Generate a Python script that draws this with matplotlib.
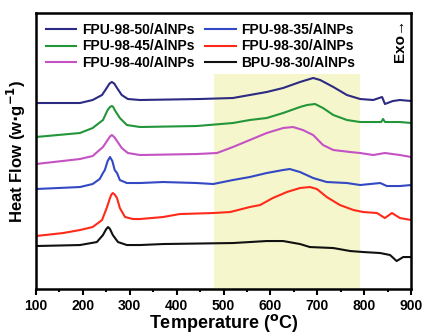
import matplotlib
matplotlib.use("Agg")
import matplotlib.pyplot as plt
from matplotlib.ticker import MultipleLocator

plt.rcParams['font.family'] = ['Liberation Sans', 'DejaVu Sans']
plt.rcParams['font.weight'] = 'bold'

# heat flow curves (arbitrary units, stacked offsets as in the figure)
t_50 = [100, 194, 221, 241, 251, 257, 262, 267, 273, 283, 296, 322, 450, 520, 556, 592, 627, 663, 691, 706, 734, 763, 791, 819, 838, 844, 861, 876, 900]
hf_50 = [186, 186, 189, 194, 201, 205.5, 207, 205.5, 201, 194, 190, 189, 190, 191, 194, 197, 201, 207, 211, 209, 202, 194, 190, 189, 192, 185, 188, 189, 188]

t_45 = [100, 194, 221, 243, 253, 258, 262, 265, 268, 279, 294, 322, 443, 520, 556, 592, 627, 663, 678, 695, 712, 734, 763, 791, 819, 836, 840, 844, 876, 900]
hf_45 = [152, 156, 161, 169, 179, 182, 183, 182, 179, 171, 164, 162, 163, 166, 169, 171, 176, 182, 184, 185, 181, 174, 169, 167, 167, 167, 170, 167, 167, 166]

t_40 = [100, 194, 221, 243, 253, 258, 262, 267, 273, 283, 296, 322, 443, 486, 520, 556, 592, 627, 648, 669, 691, 712, 734, 770, 791, 819, 844, 876, 900]
hf_40 = [125, 130, 133, 142, 149, 152.5, 154, 152, 148, 141, 136, 134, 135, 136, 142, 149, 156, 161, 162, 159, 154, 144, 139, 137, 136, 134, 136, 134, 132]

t_35 = [100, 194, 221, 236, 243, 247, 253, 258, 263, 268, 273, 279, 294, 322, 371, 443, 478, 520, 556, 592, 627, 641, 663, 691, 720, 763, 791, 834, 848, 876, 900]
hf_35 = [100, 102, 105, 110, 116, 119, 128, 132, 128, 119, 116, 109, 106, 106, 107, 106, 105, 109, 112, 116, 119, 120, 117, 111, 107, 106, 104, 106, 103, 103, 104]

t_30 = [100, 158, 194, 221, 241, 251, 258, 261, 264, 268, 273, 279, 290, 307, 322, 371, 407, 478, 514, 556, 578, 605, 635, 663, 684, 699, 720, 748, 777, 798, 827, 844, 859, 876, 900]
hf_30 = [53, 56, 59, 62, 69, 81, 91, 94.5, 96, 94.5, 91, 81, 72, 70, 70, 72, 75, 76, 77, 82, 84, 91, 97, 101, 102, 100, 92, 84, 79, 77, 76, 71, 76, 71, 69]

t_bpu = [100, 194, 230, 243, 250, 254, 258, 264, 275, 294, 322, 371, 520, 556, 592, 627, 663, 684, 734, 770, 798, 834, 855, 869, 883, 900]
hf_bpu = [43, 44, 47, 54, 60, 62, 60, 54, 47, 44, 44, 45, 46, 47, 48, 48, 45, 42, 41, 38, 37, 36, 34, 28, 32, 32]

labels = ['FPU-98-50/AlNPs', 'FPU-98-45/AlNPs', 'FPU-98-40/AlNPs',
          'FPU-98-35/AlNPs', 'FPU-98-30/AlNPs', 'BPU-98-30/AlNPs']
colors = ['#2d2a84', '#23963a', '#c452c4', '#3348c4', '#ff2a1a', '#111111']
temps = [t_50, t_45, t_40, t_35, t_30, t_bpu]
flows = [hf_50, hf_45, hf_40, hf_35, hf_30, hf_bpu]

fig = plt.figure(figsize=(4.27, 3.33), dpi=100)
ax = fig.add_axes([0.084, 0.132, 0.879, 0.829])

ax.axvspan(480, 790, ymax=0.78, color='#f6f6cc', lw=0, zorder=0)

for t, hf, c, lab in zip(temps, flows, colors, labels):
    ax.plot(t, hf, color=c, lw=1.5, label=lab, solid_joinstyle='round')

ax.set_xlim(100, 900)
ax.set_ylim(0, 276)
ax.xaxis.set_major_locator(MultipleLocator(100))
ax.xaxis.set_minor_locator(MultipleLocator(50))
ax.set_yticks([])
ax.tick_params(axis='x', which='major', direction='out', length=4, width=1.5, labelsize=10)
ax.tick_params(axis='x', which='minor', direction='out', length=2.5, width=1.5)
for s in ax.spines.values():
    s.set_linewidth(1.8)

ax.set_xlabel('Temperature ($\\mathbf{^{o}}$C)', fontsize=13, fontweight='bold', labelpad=-1)
ax.set_ylabel('Heat Flow (w$\\mathbf{\\cdot}$g$\\mathbf{^{-1}}$)', fontsize=12, fontweight='bold', labelpad=6)

ax.legend(loc='upper left', bbox_to_anchor=(0.0, 1.0), ncol=2, frameon=False,
          prop={'weight': 'bold', 'size': 10}, handlelength=2.2, handletextpad=0.4,
          columnspacing=0.8, labelspacing=0.2, borderaxespad=0.3)

ax.text(0.988, 0.9, 'Exo\u2192', transform=ax.transAxes, rotation=90,
        ha='right', va='center', fontsize=11, fontweight='bold')

fig.savefig('out.png', dpi=100)
